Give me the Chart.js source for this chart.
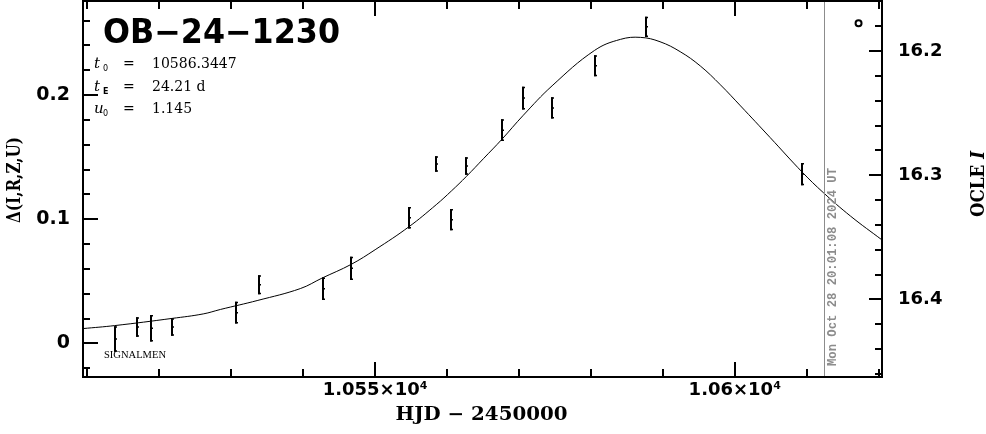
<!DOCTYPE html>
<html><head><meta charset="utf-8">
<script src="https://cdn.jsdelivr.net/npm/chart.js@4.4.1/dist/chart.umd.min.js"></script>
<style>html,body{margin:0;padding:0;background:#fff;}canvas{display:block;}</style>
</head><body>
<canvas id="c" width="986" height="434"></canvas>
<script>
// ---- data ----
const eventName = 'OB\u221224\u22121230';
const paramSymbols = ['t', 't', 'u'];
const paramSubs = ['0', 'E', '0'];
const paramValues = ['10586.3447', '24.21 d', '1.145'];
const surveyLabel = 'SIGNALMEN';
const dateStamp = 'Mon Oct 28 20:01:08 2024 UT';
const nowHJD = [10612.33];

const obsT = [10513.9, 10516.9, 10518.9, 10521.8, 10530.7, 10533.8, 10542.7, 10546.7, 10554.7, 10558.5, 10560.6, 10562.7, 10567.6, 10570.6, 10574.6, 10580.5, 10587.6, 10609.4];
const obsD = [0.0036, 0.0133, 0.0122, 0.0133, 0.0248, 0.0473, 0.0441, 0.0605, 0.1013, 0.1445, 0.0997, 0.1429, 0.1718, 0.1976, 0.1897, 0.2237, 0.2550, 0.1364];
const obsE = [0.0103, 0.0078, 0.0107, 0.0071, 0.0087, 0.0077, 0.0091, 0.0094, 0.0087, 0.0063, 0.0085, 0.0071, 0.0087, 0.0091, 0.0085, 0.0085, 0.0081, 0.0089];

const modelT = [10509.4, 10513.8, 10521.8, 10526.1, 10528.5, 10533.7, 10539.6, 10542.6, 10546.7, 10550.0, 10554.7, 10558.5, 10560.6, 10562.7, 10565.1, 10567.6, 10570.6, 10574.6, 10580.5, 10584.1, 10586.9, 10589.6, 10592.4, 10595.2, 10598.0, 10600.8, 10604.9, 10609.4, 10612.3, 10616.1, 10620.5];
const modelD = [0.0120, 0.0144, 0.0202, 0.0238, 0.0274, 0.0347, 0.0442, 0.0526, 0.0638, 0.0755, 0.0940, 0.1118, 0.1228, 0.1346, 0.1491, 0.1643, 0.1838, 0.2075, 0.2360, 0.2449, 0.2465, 0.2430, 0.2350, 0.2235, 0.2083, 0.1913, 0.1659, 0.1378, 0.1215, 0.1025, 0.0832];

const markerT = [10617.2];
const markerD = [0.2578];

const xRange = [10509.39, 10620.46];
const yRange = [-0.0270, 0.2758];
const baseI = 16.4355;               // OGLE I at zero excess
const xMajorEvery = 50, xStep = 10;
const yStep = 0.02, yMajorEvery = 0.1;

const xTitle = 'HJD \u2212 2450000';
const yTitle = '\u0394(I,R,Z,U)';
const y2Title = ['OCLE ', 'I'];

// ---- helpers ----
const isMult = (v, m) => Math.abs(v / m - Math.round(v / m)) < 1e-6;
function fitText(ctx, txt, x, y, w, align) {
  const m = ctx.measureText(txt).width;
  const s = w / m;
  ctx.save();
  ctx.translate(x, y);
  ctx.scale(s, 1);
  ctx.textAlign = align || 'left';
  ctx.fillText(txt, 0, 0);
  ctx.restore();
}
function noPad(s) { s.paddingTop = 0; s.paddingBottom = 0; s.paddingLeft = 0; s.paddingRight = 0; }

const decor = {
  id: 'decor',
  afterDatasetsDraw(chart) {
    const { ctx, chartArea: a, scales: { x, y, y2 } } = chart;
    ctx.save();
    // now line
    const nx = Math.round(x.getPixelForValue(nowHJD[0])) + 0.5;
    ctx.strokeStyle = '#8c8c8c'; ctx.lineWidth = 1;
    ctx.beginPath(); ctx.moveTo(nx, a.top); ctx.lineTo(nx, a.bottom); ctx.stroke();
    ctx.save();
    ctx.translate(nx + 8, a.bottom - 11);
    ctx.rotate(-Math.PI / 2);
    ctx.fillStyle = '#8c8c8c';
    ctx.font = 'bold 12px "Liberation Mono"';
    ctx.textBaseline = 'middle';
    fitText(ctx, dateStamp, 0, 0, 198, 'left');
    ctx.restore();

    // error bars
    ctx.strokeStyle = '#000';
    obsT.forEach((t, i) => {
      const px = Math.round(x.getPixelForValue(t));
      const t1 = y.getPixelForValue(obsD[i] + obsE[i]);
      const b1 = y.getPixelForValue(obsD[i] - obsE[i]);
      const c1 = y.getPixelForValue(obsD[i]);
      ctx.lineWidth = 2;
      ctx.beginPath(); ctx.moveTo(px, t1); ctx.lineTo(px, b1); ctx.stroke();
      ctx.lineWidth = 1.5;
      ctx.beginPath();
      ctx.moveTo(px - 1, t1 + 0.75); ctx.lineTo(px + 2, t1 + 0.75);
      ctx.moveTo(px - 1, b1 - 0.75); ctx.lineTo(px + 2, b1 - 0.75);
      ctx.moveTo(px - 1, c1); ctx.lineTo(px + 2, c1);
      ctx.stroke();
    });

    // frame
    ctx.lineWidth = 2; ctx.strokeStyle = '#000';
    ctx.strokeRect(a.left, a.top, a.right - a.left, a.bottom - a.top);
    // inward ticks
    ctx.beginPath();
    x.ticks.forEach(t => {
      const p = Math.round(x.getPixelForValue(t.value));
      const L = isMult(t.value, xMajorEvery) ? 15 : 8;
      ctx.moveTo(p, a.bottom); ctx.lineTo(p, a.bottom - L);
      ctx.moveTo(p, a.top); ctx.lineTo(p, a.top + L);
    });
    y.ticks.forEach(t => {
      const p = Math.round(y.getPixelForValue(t.value));
      const L = isMult(t.value, yMajorEvery) ? 15 : 7;
      ctx.moveTo(a.left, p); ctx.lineTo(a.left + L, p);
    });
    y2.ticks.forEach(t => {
      const p = Math.round(y2.getPixelForValue(t.value));
      const L = isMult(t.value, yMajorEvery) ? 13 : 7;
      ctx.moveTo(a.right, p); ctx.lineTo(a.right - L, p);
    });
    ctx.stroke();

    // title block
    ctx.fillStyle = '#000';
    ctx.font = 'bold 33px "DejaVu Sans"';
    ctx.textBaseline = 'alphabetic';
    fitText(ctx, eventName, a.left + 20, 43, 237, 'left');
    const baseY = [68, 91, 113];
    paramSymbols.forEach((s, i) => {
      ctx.font = 'italic 15px "DejaVu Serif"';
      ctx.fillText(s, a.left + 11, baseY[i]);
      ctx.font = (paramSubs[i] === 'E' ? 'bold ' : '') + '8px "DejaVu Sans"';
      ctx.fillText(paramSubs[i], a.left + 20, baseY[i] + 3);
      ctx.font = '14px "DejaVu Serif"';
      ctx.fillText('=', a.left + 40, baseY[i]);
      ctx.fillText(paramValues[i], a.left + 69, baseY[i]);
    });
    ctx.font = '11px "Liberation Serif"';
    fitText(ctx, surveyLabel, a.left + 21, 358, 62, 'left');

    // axis titles
    ctx.font = 'bold 18px "DejaVu Serif"';
    fitText(ctx, xTitle, (a.left + a.right) / 2 - 1, 420, 172, 'center');
    ctx.save();
    ctx.translate(20, 180);
    ctx.rotate(-Math.PI / 2);
    ctx.font = 'bold 18px "DejaVu Serif"';
    fitText(ctx, yTitle, 0, 0, 86, 'center');
    ctx.restore();
    ctx.save();
    ctx.translate(984, 184);
    ctx.rotate(-Math.PI / 2);
    ctx.font = 'bold 19px "DejaVu Serif"';
    const w1 = ctx.measureText(y2Title[0]).width;
    ctx.font = 'bold italic 19px "DejaVu Serif"';
    const w2 = ctx.measureText(y2Title[1]).width;
    const sc = 66 / (w1 + w2);
    ctx.scale(sc, 1);
    ctx.textAlign = 'left';
    ctx.font = 'bold 19px "DejaVu Serif"';
    ctx.fillText(y2Title[0], -(w1 + w2) / 2, 0);
    ctx.font = 'bold italic 19px "DejaVu Serif"';
    ctx.fillText(y2Title[1], -(w1 + w2) / 2 + w1, 0);
    ctx.restore();
    ctx.restore();
  }
};

const tickFont = (s) => ({ family: 'DejaVu Sans', weight: 'bold', size: s });

new Chart(document.getElementById('c'), {
  data: {
    datasets: [
      {
        type: 'line',
        data: modelT.map((t, i) => ({ x: t, y: modelD[i] })),
        borderColor: '#000', borderWidth: 1, pointRadius: 0, pointHoverRadius: 0,
        tension: 0.4, fill: false, yAxisID: 'y'
      },
      {
        type: 'scatter',
        data: markerT.map((t, i) => ({ x: t, y: markerD[i] })),
        pointStyle: 'circle', pointRadius: 3, pointHoverRadius: 3, borderWidth: 2,
        borderColor: '#000', backgroundColor: '#fff', yAxisID: 'y'
      }
    ]
  },
  options: {
    responsive: false, animation: false, events: [],
    layout: { autoPadding: false, padding: { top: 1, left: 0, right: 0, bottom: 0 } },
    plugins: { legend: { display: false }, tooltip: { enabled: false } },
    scales: {
      x: {
        type: 'linear', position: 'bottom', min: xRange[0], max: xRange[1],
        grid: { display: false, drawTicks: false }, border: { display: false },
        afterFit(s) { s.height = 57; noPad(s); },
        ticks: {
          stepSize: xStep, autoSkip: false, maxRotation: 0, minRotation: 0, includeBounds: false,
          padding: 3, color: '#000', font: tickFont(18),
          callback: v => isMult(v, xMajorEvery) ? (v / 1e4) + '\u00d710\u2074' : ''
        }
      },
      y: {
        type: 'linear', position: 'left', min: yRange[0], max: yRange[1],
        grid: { display: false, drawTicks: false }, border: { display: false },
        afterFit(s) { s.width = 83; noPad(s); },
        ticks: {
          stepSize: yStep, autoSkip: false, includeBounds: false, padding: 13,
          color: '#000', font: tickFont(19),
          callback: v => isMult(v, yMajorEvery) ? (Math.abs(v) < 1e-9 ? '0' : v.toFixed(1)) : ''
        }
      },
      y2: {
        type: 'linear', position: 'right', reverse: true,
        min: baseI - yRange[1], max: baseI - yRange[0],
        grid: { display: false, drawTicks: false }, border: { display: false },
        afterFit(s) { s.width = 104; noPad(s); },
        ticks: {
          stepSize: yStep, autoSkip: false, includeBounds: false, padding: 16,
          color: '#000', font: tickFont(18),
          callback: v => isMult(v, yMajorEvery) ? v.toFixed(1) : ''
        }
      }
    }
  },
  plugins: [decor]
});
</script>
</body></html>
